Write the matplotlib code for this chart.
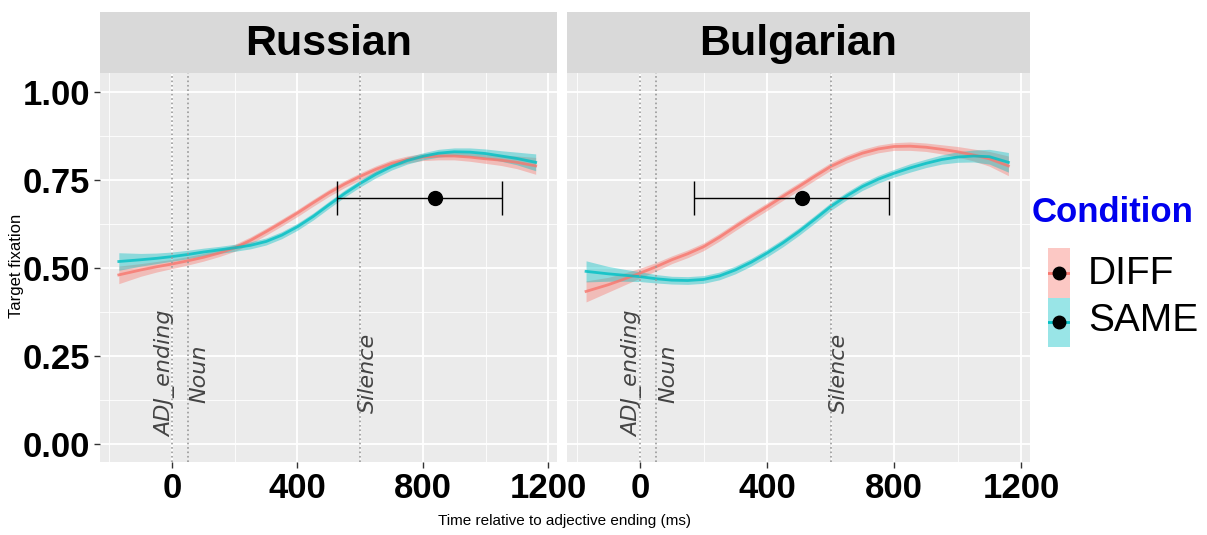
import numpy as np
import matplotlib.pyplot as plt
from matplotlib.patches import Rectangle
from matplotlib.ticker import MultipleLocator

# smoothed fixation curves
time_ms = [-170, -100, -50, 0, 50, 100, 150, 200, 250, 300, 350, 400, 450, 500, 550,
           600, 650, 700, 750, 800, 850, 900, 950, 1000, 1050, 1100, 1160]

russian_diff = [0.480, 0.494, 0.503, 0.511, 0.520, 0.530, 0.542, 0.557, 0.578, 0.603, 0.629, 0.656, 0.685, 0.713,
                0.738, 0.760, 0.780, 0.797, 0.808, 0.815, 0.818, 0.818, 0.815, 0.810, 0.806, 0.800, 0.790]
russian_same = [0.518, 0.523, 0.527, 0.532, 0.538, 0.545, 0.551, 0.557, 0.564, 0.575, 0.593, 0.617, 0.646, 0.679,
                0.711, 0.740, 0.766, 0.788, 0.805, 0.817, 0.826, 0.830, 0.829, 0.825, 0.818, 0.811, 0.800]
bulgarian_diff = [0.433, 0.452, 0.468, 0.485, 0.503, 0.523, 0.540, 0.560, 0.587, 0.617, 0.646, 0.674, 0.703, 0.731,
                  0.760, 0.788, 0.809, 0.826, 0.838, 0.845, 0.846, 0.843, 0.837, 0.830, 0.821, 0.810, 0.790]
bulgarian_same = [0.490, 0.483, 0.479, 0.475, 0.469, 0.465, 0.464, 0.467, 0.477, 0.494, 0.516, 0.542, 0.571, 0.603,
                  0.638, 0.674, 0.704, 0.731, 0.752, 0.769, 0.784, 0.797, 0.808, 0.815, 0.818, 0.816, 0.800]

# half width of the confidence ribbons
se_russian = [0.025, 0.018, 0.015, 0.013, 0.012, 0.011, 0.010, 0.010, 0.010, 0.010, 0.010, 0.010, 0.010, 0.010,
              0.010, 0.010, 0.010, 0.010, 0.010, 0.010, 0.011, 0.011, 0.012, 0.013, 0.015, 0.018, 0.024]
se_bulgarian = [0.030, 0.021, 0.017, 0.014, 0.012, 0.011, 0.011, 0.011, 0.011, 0.011, 0.011, 0.011, 0.011, 0.011,
                0.011, 0.011, 0.011, 0.011, 0.011, 0.011, 0.012, 0.012, 0.013, 0.015, 0.017, 0.021, 0.028]

# error bar (low, mean, high) per language
eb_y = 0.70
eb_russian = (527, 838, 1053)
eb_bulgarian = (169, 511, 785)

# event markers
events = [0, 50, 600]
event_labels = ['ADJ_ending', 'Noun', 'Silence']
event_label_x = [-22, 88, 625]

languages = ['Russian', 'Bulgarian']
conditions = ['DIFF', 'SAME']
cond_colors = {'DIFF': '#F8766D', 'SAME': '#00BFC4'}

SANS = ['Liberation Sans', 'DejaVu Sans']

W, H = 1207, 535
fig = plt.figure(figsize=(W / 100, H / 100), dpi=100)

def fx(px):
    return px / W

def fy(py):
    return 1 - py / H

panels = [(100, 557), (567, 1030)]
top, bottom = 73, 462
strip_top = 12

data = {
    'Russian': {'DIFF': russian_diff, 'SAME': russian_same, 'se': se_russian, 'eb': eb_russian},
    'Bulgarian': {'DIFF': bulgarian_diff, 'SAME': bulgarian_same, 'se': se_bulgarian, 'eb': eb_bulgarian},
}

t = np.array(time_ms)
for i, lang in enumerate(languages):
    x0, x1 = panels[i]
    ax = fig.add_axes([fx(x0), fy(bottom), fx(x1 - x0), (bottom - top) / H])
    ax.set_facecolor('#EBEBEB')
    for s in ax.spines.values():
        s.set_visible(False)
    ax.set_xlim(-230, 1228)
    ax.set_ylim(-0.052, 1.054)
    ax.xaxis.set_major_locator(MultipleLocator(400))
    ax.xaxis.set_minor_locator(MultipleLocator(200))
    ax.yaxis.set_major_locator(MultipleLocator(0.25))
    ax.yaxis.set_minor_locator(MultipleLocator(0.125))
    ax.grid(which='major', color='white', lw=1.3)
    ax.grid(which='minor', color='white', lw=0.6)
    ax.set_axisbelow(True)
    ax.tick_params(which='minor', length=0)
    ax.tick_params(which='major', length=4, width=1, color='#333333')
    ax.tick_params(axis='both', labelsize=25, pad=3)
    ax.yaxis.set_major_formatter(lambda v, p: f'{v:.2f}')
    for lab in ax.get_xticklabels() + ax.get_yticklabels():
        lab.set_family(SANS)
        lab.set_fontweight('bold')
    if i > 0:
        ax.tick_params(axis='y', labelleft=False, length=0)

    se = np.array(data[lang]['se'])
    for c in conditions:
        m = np.array(data[lang][c])
        ax.fill_between(t, m - se, m + se, color=cond_colors[c], alpha=0.4, lw=0)
        ax.plot(t, m, color=cond_colors[c], lw=2, alpha=0.8)

    for ev, lbl, lx in zip(events, event_labels, event_label_x):
        ax.axvline(ev, color='#999999', ls=':', lw=1.2)
        ax.text(lx, 0.2, lbl, rotation=90, ha='center', va='center', fontsize=16,
                style='italic', color='#444444', family=['DejaVu Sans'])

    lo, mid, hi = data[lang]['eb']
    ax.errorbar([mid], [eb_y], xerr=[[mid - lo], [hi - mid]], fmt='o', color='black',
                ms=10, elinewidth=1, capsize=12, capthick=1)

    # strip
    sax = fig.add_axes([fx(x0), fy(top), fx(x1 - x0), (top - strip_top) / H])
    sax.set_facecolor('#D9D9D9')
    sax.set_xticks([])
    sax.set_yticks([])
    for s in sax.spines.values():
        s.set_visible(False)
    sax.text(0.5, 0.48, lang, transform=sax.transAxes, ha='center', va='center',
             fontsize=31, fontweight='bold', family=SANS)

fig.text(fx(17), fy(266), 'Target fixation', rotation=90, ha='center', va='center',
         fontsize=12, family=SANS)
fig.text(fx(565), fy(521), 'Time relative to adjective ending (ms)', ha='center', va='center',
         fontsize=11, family=SANS)

# legend
fig.text(fx(1032), fy(213), 'Condition', ha='left', va='center', fontsize=25,
         fontweight='bold', color='#0000EE', family=SANS)
lax = fig.add_axes([fx(1048), fy(347), fx(22), (347 - 248) / H])
lax.set_xlim(0, 1)
lax.set_ylim(0, 2)
lax.axis('off')
for k, c in enumerate(conditions):
    yb = 1 - k
    lax.add_patch(Rectangle((0, yb), 1, 1, color=cond_colors[c], alpha=0.4, lw=0))
    lax.plot([0, 1], [yb + 0.5, yb + 0.5], color=cond_colors[c], lw=2)
    lax.plot([0.5], [yb + 0.5], 'o', color='black', ms=9)
    fig.text(fx(1088), fy(274 + 47 * k), c, ha='left', va='center', fontsize=28, family=SANS)

fig.savefig('out.png', dpi=100, facecolor='white')
